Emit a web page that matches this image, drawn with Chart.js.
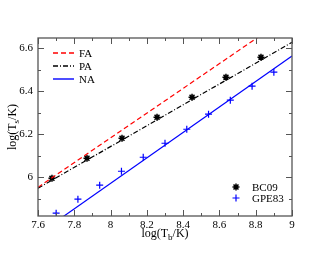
<!DOCTYPE html>
<html>
<head>
<meta charset="utf-8">
<script src="https://cdn.jsdelivr.net/npm/chart.js@4"></script>
<style>
  html, body { margin: 0; padding: 0; background: #fff; }
  #wrap { width: 330px; height: 255px; }
</style>
</head>
<body>
<div id="wrap"><canvas id="c"></canvas></div>
<script>
// model lines (end points in log units)
const faX = [7.6, 9];
const faY = [5.953, 6.758];
const paX = [7.6, 9];
const paY = [5.949, 6.627];
const naX = [7.6, 9];
const naY = [5.735, 6.563];

// data points
const bc09X = [7.677, 7.870, 8.063, 8.256, 8.449, 8.636, 8.829];
const bc09Y = [5.995, 6.088, 6.181, 6.279, 6.372, 6.465, 6.558];
const gpeX = [7.70, 7.82, 7.94, 8.06, 8.18, 8.30, 8.42, 8.54, 8.66, 8.78, 8.90];
const gpeY = [5.833, 5.898, 5.963, 6.028, 6.093, 6.158, 6.223, 6.293, 6.358, 6.423, 6.488];

const xMin = 7.6, xMax = 9, yMin = 5.82, yMax = 6.647;
const serif = '"Liberation Serif", "DejaVu Serif", serif';

const lineStyles = [
    { label: 'FA', color: 'rgb(255,0,0)', dash: [5, 3] },
    { label: 'PA', color: 'rgb(0,0,0)', dash: [5, 2, 1, 2] },
    { label: 'NA', color: 'rgb(0,0,255)', dash: [] }
];

function pts(xs, ys) {
    return xs.map((x, i) => ({ x: x, y: ys[i] }));
}

// inward ticks on all four sides + frame
const frameTicks = {
    id: 'frameTicks',
    afterDatasetsDraw(chart) {
        const ctx = chart.ctx;
        const a = chart.chartArea;
        const xs = chart.scales.x, ys = chart.scales.y;
        ctx.save();
        ctx.strokeStyle = '#555';
        ctx.lineWidth = 1;
        ctx.beginPath();
        for (let i = 0; i <= 14; i++) {
            const v = xMin + i * 0.1;
            const px = Math.round(xs.getPixelForValue(v)) + 0.5;
            const len = i % 2 === 0 ? 6 : 3;
            ctx.moveTo(px, a.bottom); ctx.lineTo(px, a.bottom - len);
            ctx.moveTo(px, a.top); ctx.lineTo(px, a.top + len);
        }
        for (let i = 0; i <= 8; i++) {
            const v = 5.9 + i * 0.1;
            if (v > yMax) break;
            const py = Math.round(ys.getPixelForValue(v)) + 0.5;
            const len = i % 2 === 1 ? 6 : 3;
            ctx.moveTo(a.left, py); ctx.lineTo(a.left + len, py);
            ctx.moveTo(a.right, py); ctx.lineTo(a.right - len, py);
        }
        ctx.stroke();
        ctx.lineWidth = 1.3;
        ctx.strokeRect(a.left, a.top, a.right - a.left, a.bottom - a.top);
        ctx.restore();
    }
};

// axis titles with subscripts, and the two legends
const labels = {
    id: 'labels',
    afterDraw(chart) {
        const ctx = chart.ctx;
        const a = chart.chartArea;
        const ds = chart.data.datasets;

        // line legend top-left
        lineStyles.forEach((st, i) => {
            const y = 53 + i * 13;
            ctx.save();
            ctx.setLineDash(st.dash);
            ctx.strokeStyle = st.color;
            ctx.lineWidth = 1.4;
            ctx.beginPath();
            ctx.moveTo(53, y);
            ctx.lineTo(74, y);
            ctx.stroke();
            ctx.restore();
        });

        ctx.save();
        ctx.fillStyle = '#000';
        ctx.textBaseline = 'alphabetic';

        function sub(main, s, rest, x, y) {
            ctx.font = '12px ' + serif;
            const w1 = ctx.measureText(main).width;
            ctx.font = '9px ' + serif;
            const w2 = ctx.measureText(s).width;
            ctx.font = '12px ' + serif;
            const w3 = ctx.measureText(rest).width;
            let cx = x - (w1 + w2 + w3) / 2;
            ctx.fillText(main, cx, y); cx += w1;
            ctx.font = '9px ' + serif;
            ctx.fillText(s, cx, y + 3); cx += w2;
            ctx.font = '12px ' + serif;
            ctx.fillText(rest, cx, y);
        }
        ctx.textAlign = 'left';
        sub('log(T', 'b', '/K)', (a.left + a.right) / 2, 237);
        ctx.save();
        ctx.translate(16, (a.top + a.bottom) / 2);
        ctx.rotate(-Math.PI / 2);
        sub('log(T', 's', '/K)', 0, 0);
        ctx.restore();

        ctx.font = '11px ' + serif;
        ctx.textBaseline = 'middle';
        lineStyles.forEach((st, i) => {
            ctx.fillText(st.label, 79, 53 + i * 13 + 1);
        });

        // marker legend bottom-right
        [3, 4].forEach((k, i) => {
            const d = ds[k];
            const y = 187 + i * 11;
            ctx.save();
            ctx.strokeStyle = d.borderColor;
            ctx.fillStyle = d.backgroundColor;
            ctx.lineWidth = d.borderWidth;
            Chart.helpers.drawPoint(ctx, {
                pointStyle: d.pointStyle, radius: d.pointRadius,
                borderWidth: d.borderWidth, rotation: 0
            }, 236, y);
            ctx.restore();
            ctx.fillText(d.label, 252, y + 1);
        });
        ctx.restore();
    }
};

new Chart(document.getElementById('c'), {
    type: 'scatter',
    data: {
        datasets: [
            {
                label: 'FA', type: 'line', data: pts(faX, faY),
                borderColor: lineStyles[0].color, borderWidth: 1.2, borderDash: lineStyles[0].dash,
                pointRadius: 0, fill: false
            },
            {
                label: 'PA', type: 'line', data: pts(paX, paY),
                borderColor: lineStyles[1].color, borderWidth: 1.2, borderDash: lineStyles[1].dash,
                pointRadius: 0, fill: false
            },
            {
                label: 'NA', type: 'line', data: pts(naX, naY),
                borderColor: lineStyles[2].color, borderWidth: 1.2,
                pointRadius: 0, fill: false
            },
            {
                label: 'BC09', data: pts(bc09X, bc09Y),
                pointStyle: 'star', pointRadius: 3.5, borderWidth: 1.5,
                borderColor: '#000', backgroundColor: '#000'
            },
            {
                label: 'GPE83', data: pts(gpeX, gpeY),
                pointStyle: 'cross', pointRadius: 3.5, borderWidth: 1.2,
                borderColor: '#0000ff', backgroundColor: '#0000ff'
            }
        ]
    },
    options: {
        responsive: true,
        maintainAspectRatio: false,
        animation: false,
        devicePixelRatio: 1,
        layout: { padding: { top: 38, right: 38, left: 0, bottom: 0 } },
        plugins: { legend: { display: false }, tooltip: { enabled: false } },
        scales: {
            x: {
                type: 'linear', min: xMin, max: xMax,
                grid: { display: false, drawTicks: false },
                border: { display: false },
                ticks: {
                    stepSize: 0.2, includeBounds: false, padding: 3, color: '#000',
                    font: { family: serif, size: 11 }, maxRotation: 0,
                    callback: v => String(+v.toFixed(2))
                },
                afterFit: s => { s.height = 39; }
            },
            y: {
                type: 'linear', min: yMin, max: yMax,
                grid: { display: false, drawTicks: false },
                border: { display: false },
                ticks: {
                    stepSize: 0.2, includeBounds: false, padding: 5, color: '#000',
                    font: { family: serif, size: 11 },
                    callback: v => String(+v.toFixed(2))
                },
                afterFit: s => { s.width = 38; }
            }
        }
    },
    plugins: [frameTicks, labels]
});
</script>
</body>
</html>
